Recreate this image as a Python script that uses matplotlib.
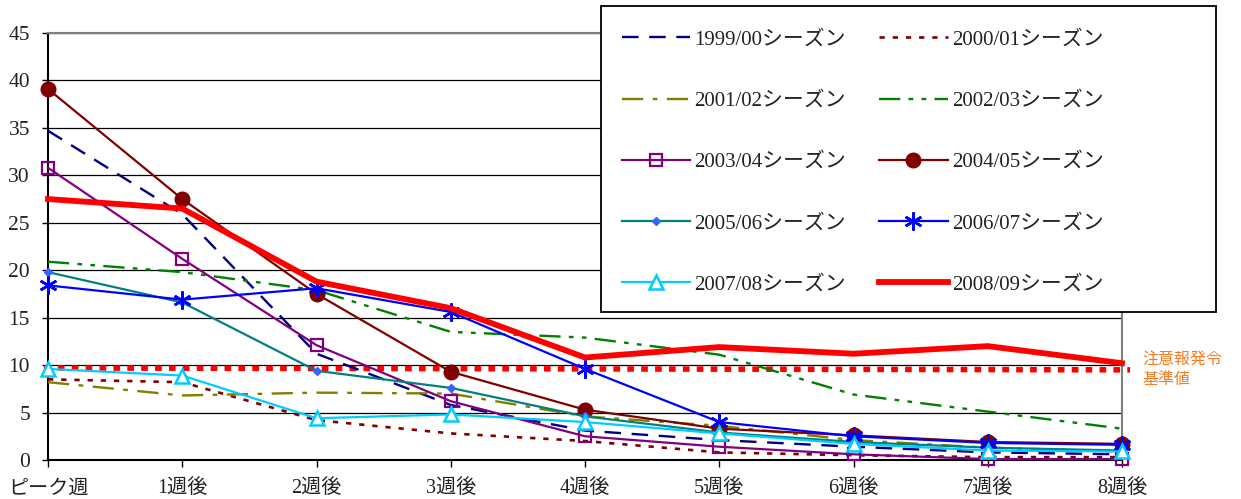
import matplotlib
matplotlib.use("Agg")
import matplotlib.pyplot as plt
from matplotlib.patches import Rectangle

plt.rcParams['font.family'] = ['Liberation Serif', 'Noto Sans CJK JP']

weeks = ['ピーク週', '1週後', '2週後', '3週後', '4週後', '5週後', '6週後', '7週後', '8週後']

seasons = ['1999/00シーズン', '2000/01シーズン', '2001/02シーズン', '2002/03シーズン',
           '2003/04シーズン', '2004/05シーズン', '2005/06シーズン', '2006/07シーズン',
           '2007/08シーズン', '2008/09シーズン']

s1999 = [34.7, 25.9, 11.2, 5.8, 3.1, 2.1, 1.4, 0.8, 0.6]
s2000 = [8.5, 8.2, 4.2, 2.8, 2.0, 0.8, 0.5, 0.3, 0.3]
s2001 = [8.2, 6.8, 7.1, 7.0, 4.6, 3.6, 2.1, 1.3, 0.9]
s2002 = [20.9, 19.8, 17.9, 13.5, 12.9, 11.1, 6.9, 5.1, 3.3]
s2003 = [30.8, 21.2, 12.1, 6.2, 2.5, 1.4, 0.6, 0.1, 0.1]
s2004 = [39.1, 27.5, 17.5, 9.3, 5.3, 3.3, 2.6, 1.9, 1.7]
s2005 = [19.8, 16.6, 9.4, 7.6, 4.6, 2.9, 1.9, 1.3, 1.0]
s2006 = [18.4, 16.9, 18.1, 15.6, 9.6, 4.0, 2.5, 1.8, 1.6]
s2007 = [9.6, 8.9, 4.4, 4.8, 4.0, 2.8, 1.7, 1.0, 0.9]
s2008 = [27.5, 26.5, 18.8, 16.0, 10.8, 11.9, 11.2, 12.0, 10.2]

threshold = 9.6

x = list(range(len(weeks)))

W, H = 1241, 499
fig = plt.figure(figsize=(W / 100, H / 100), dpi=100)
ax = fig.add_axes([48 / W, 1 - 460 / H, (1122 - 48) / W, (460 - 33) / H])

styles = [
    (s1999, dict(color='#000080', lw=1.7, ls=(0, (7, 4.5)))),
    (s2000, dict(color='#800000', lw=1.9, ls=(0, (2.0, 3.0)))),
    (s2001, dict(color='#808000', lw=1.7, ls=(0, (9, 4, 2, 4)))),
    (s2002, dict(color='#008000', lw=1.7, ls=(0, (9, 3.5, 2, 3.5, 2, 3.5)))),
    (s2003, dict(color='#800080', lw=1.6, marker='s', ms=9, mfc='none', mec='#800080', mew=1.6)),
    (s2004, dict(color='#800000', lw=1.6, marker='o', ms=10.5, mfc='#800000', mec='#800000')),
    (s2005, dict(color='#008080', lw=1.6, marker='D', ms=4.5, mfc='#3366FF', mec='#3366FF')),
    (s2006, dict(color='#0000FF', lw=1.6, marker=(6, 2, 0), ms=13, mec='#0000FF', mew=1.8)),
    (s2007, dict(color='#00CCFF', lw=1.6, marker='^', ms=10, mfc='white', mec='#00CCFF', mew=1.8)),
    (s2008, dict(color='#FF0000', lw=4.2)),
]

for spine in ['left', 'bottom']:
    ax.spines[spine].set_color('#000000')
    ax.spines[spine].set_linewidth(1.5)
for spine in ['top', 'right']:
    ax.spines[spine].set_color('#808080')
    ax.spines[spine].set_linewidth(1.5)

ax.set_xlim(0, 8)
ax.set_ylim(0, 45)
ax.set_yticks(range(0, 46, 5))
ax.set_xticks(x)
ax.set_xticklabels(weeks)
ax.yaxis.grid(True, color='#000000', lw=0.9)
ax.set_axisbelow(True)
ax.tick_params(axis='y', length=4, width=1, pad=9, labelsize=15.5)
ax.tick_params(axis='x', length=5, width=1, pad=9, labelsize=14.5)
for lbl in ax.get_xticklabels() + ax.get_yticklabels():
    lbl.set_color('#222222')

# advisory reference level
ax.plot([-0.03, 8.06], [threshold + 0.1, threshold - 0.1], color='#FF0000', lw=4,
        ls=(0, (1.2, 1.3)), dash_capstyle='butt', clip_on=False, zorder=3)

handles = []
for (vals, kw), name in zip(styles, seasons):
    line, = ax.plot(x, vals, label=name, clip_on=False, zorder=4, **kw)
    handles.append(line)
handles[-1].set_zorder(5)

ax.text(8.155, threshold, '注意報発令\n基準値', color='#F47B20', fontsize=11.5,
        family=['Noto Sans CJK JP'], va='center', ha='left', linespacing=1.25,
        transform=ax.transData)

# legend box
box = Rectangle((601 / W, 1 - 312 / H), (1216 - 601) / W, (312 - 6) / H,
                transform=fig.transFigure, facecolor='white', edgecolor='#000000',
                lw=1.3, zorder=2)
fig.patches.append(box)

order = [0, 2, 4, 6, 8, 1, 3, 5, 7, 9]
leg = fig.legend(handles=[handles[i] for i in order], loc='upper left',
                 bbox_to_anchor=(622 / W, 1 - 30 / H), ncol=2,
                 frameon=False, fontsize=15, handlelength=3.27, handletextpad=0.2,
                 columnspacing=1.6, labelspacing=2.0, borderpad=0,
                 borderaxespad=0)
leg.set_zorder(3)
for t in leg.get_texts():
    t.set_color('#222222')

fig.savefig('out.png', dpi=100)
